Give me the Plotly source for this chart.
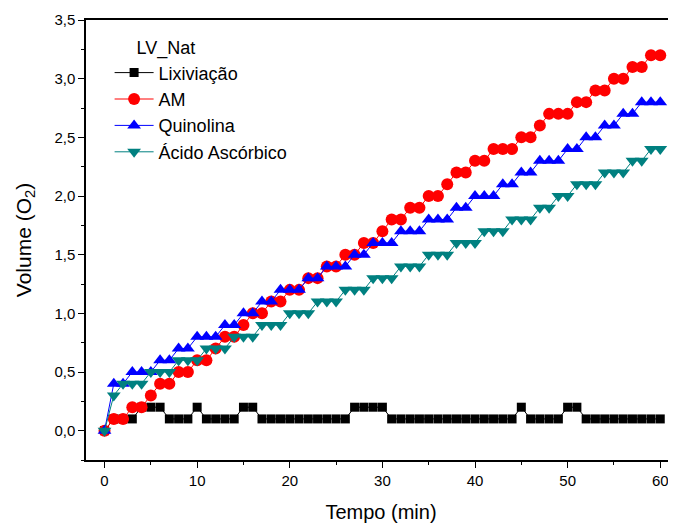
import plotly.graph_objects as go

tempo = list(range(0, 61))

lixiviacao = [0, 0.1, 0.1, 0.1, 0.2, 0.2, 0.2, 0.1, 0.1, 0.1,
              0.2, 0.1, 0.1, 0.1, 0.1, 0.2, 0.2, 0.1, 0.1, 0.1,
              0.1, 0.1, 0.1, 0.1, 0.1, 0.1, 0.1, 0.2, 0.2, 0.2,
              0.2, 0.1, 0.1, 0.1, 0.1, 0.1, 0.1, 0.1, 0.1, 0.1,
              0.1, 0.1, 0.1, 0.1, 0.1, 0.2, 0.1, 0.1, 0.1, 0.1,
              0.2, 0.2, 0.1, 0.1, 0.1, 0.1, 0.1, 0.1, 0.1, 0.1,
              0.1]

am = [0, 0.1, 0.1, 0.2, 0.2, 0.3, 0.4, 0.4, 0.5, 0.5,
      0.6, 0.6, 0.7, 0.8, 0.8, 0.9, 1.0, 1.0, 1.1, 1.1,
      1.2, 1.2, 1.3, 1.3, 1.4, 1.4, 1.5, 1.5, 1.6, 1.6,
      1.7, 1.8, 1.8, 1.9, 1.9, 2.0, 2.0, 2.1, 2.2, 2.2,
      2.3, 2.3, 2.4, 2.4, 2.4, 2.5, 2.5, 2.6, 2.7, 2.7,
      2.7, 2.8, 2.8, 2.9, 2.9, 3.0, 3.0, 3.1, 3.1, 3.2,
      3.2]

quinolina = [0, 0.4, 0.4, 0.5, 0.5, 0.5, 0.6, 0.6, 0.7, 0.7,
             0.8, 0.8, 0.8, 0.9, 0.9, 1.0, 1.0, 1.1, 1.1, 1.2,
             1.2, 1.2, 1.3, 1.3, 1.4, 1.4, 1.4, 1.5, 1.5, 1.6,
             1.6, 1.6, 1.7, 1.7, 1.7, 1.8, 1.8, 1.8, 1.9, 1.9,
             2.0, 2.0, 2.0, 2.1, 2.1, 2.2, 2.2, 2.3, 2.3, 2.3,
             2.4, 2.4, 2.5, 2.5, 2.6, 2.6, 2.7, 2.7, 2.8, 2.8,
             2.8]

acido = [0, 0.3, 0.4, 0.4, 0.4, 0.5, 0.5, 0.5, 0.6, 0.6,
         0.6, 0.7, 0.7, 0.7, 0.8, 0.8, 0.8, 0.9, 0.9, 0.9,
         1.0, 1.0, 1.0, 1.1, 1.1, 1.1, 1.2, 1.2, 1.2, 1.3,
         1.3, 1.3, 1.4, 1.4, 1.4, 1.5, 1.5, 1.5, 1.6, 1.6,
         1.6, 1.7, 1.7, 1.7, 1.8, 1.8, 1.8, 1.9, 1.9, 2.0,
         2.0, 2.1, 2.1, 2.1, 2.2, 2.2, 2.2, 2.3, 2.3, 2.4,
         2.4]

series = [
    ("Lixiviação", lixiviacao, "#000000", "square", 9),
    ("AM", am, "#ff0000", "circle", 12),
    ("Quinolina", quinolina, "#0000ff", "triangle-up", 12),
    ("Ácido Ascórbico", acido, "#008080", "triangle-down", 12),
]

fig = go.Figure()
for name, vals, color, sym, size in series:
    fig.add_trace(go.Scatter(
        x=tempo, y=vals, name=name, mode="lines+markers",
        line=dict(color=color, width=1),
        marker=dict(symbol=sym, size=size, color=color, line=dict(width=0)),
    ))

font_family = "Liberation Sans, Arial, sans-serif"

# The page body adds an 8px margin, so the figure is sized to fill the
# remaining 668x518 area of the 676x526 window.
fig.update_layout(
    width=668, height=518,
    margin=dict(l=78, r=0, t=12, b=66),
    paper_bgcolor="white", plot_bgcolor="white",
    separators=",.",
    font=dict(family=font_family, size=15, color="black"),
    showlegend=True,
    legend=dict(
        title=dict(text="\u00a0\u00a0\u00a0\u00a0\u00a0LV_Nat", font=dict(size=18)),
        x=0.04, y=0.975, xanchor="left", yanchor="top",
        font=dict(size=18), bgcolor="rgba(0,0,0,0)",
        tracegroupgap=0, itemwidth=39,
    ),
)

fig.update_xaxes(
    range=[-2, 61.7], tickmode="linear", tick0=0, dtick=10,
    ticks="outside", ticklen=6, tickwidth=1.2, tickcolor="black",
    showline=True, linecolor="black", linewidth=1.5, mirror=True,
    showgrid=False, zeroline=False, automargin=False,
    minor=dict(ticks="outside", dtick=5, tick0=0, ticklen=3, tickcolor="black"),
    title=dict(text="Tempo (min)", font=dict(size=20), standoff=17),
    tickfont=dict(size=15),
)
fig.update_yaxes(
    range=[-0.25, 3.5], tickmode="linear", tick0=0, dtick=0.5, tickformat=".1f",
    ticks="outside", ticklen=6, tickwidth=1.2, tickcolor="black",
    showline=True, linecolor="black", linewidth=1.5, mirror=False,
    showgrid=False, zeroline=False, automargin=False,
    minor=dict(ticks="outside", dtick=0.25, tick0=0, ticklen=3, tickcolor="black"),
    title=dict(text="Volume (O<sub>2</sub>)", font=dict(size=21), standoff=17),
    tickfont=dict(size=15),
)

fig.write_html("out.html")
